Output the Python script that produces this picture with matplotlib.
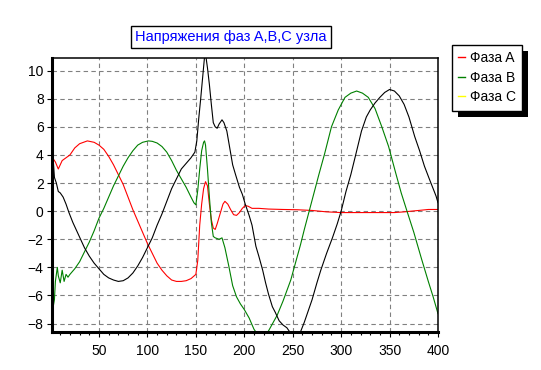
import matplotlib
matplotlib.use("Agg")
import matplotlib.pyplot as plt
from matplotlib.lines import Line2D
from matplotlib.patches import Rectangle
from matplotlib.ticker import MultipleLocator

plt.rcParams['font.family'] = ['Liberation Sans', 'DejaVu Sans']

TITLE = "Напряжения фаз A,B,C узла"
LABELS = ["Фаза A", "Фаза B", "Фаза C"]
LEGEND_COLORS = ["#ff0000", "#008000", "#ffff00"]

# phase A (red)
a_x = [1, 3, 5, 8, 12, 16, 20, 25, 30, 38, 45, 50, 55, 60, 65, 70, 75, 80, 85,
       90, 95, 100, 105, 110, 115, 120, 125, 130, 135, 140, 145, 150, 152, 154,
       156, 158, 160, 162, 164, 166, 168, 170, 172, 175, 178, 180, 183, 186,
       189, 192, 195, 198, 201, 204, 208, 215, 225, 240, 255, 270, 285, 300,
       320, 340, 355, 365, 380, 390, 400]
a_y = [3.4, 3.7, 3.5, 3.0, 3.6, 3.8, 4.0, 4.5, 4.8, 5.0, 4.9, 4.7, 4.4, 3.9,
       3.3, 2.6, 1.9, 1.0, 0.1, -0.7, -1.5, -2.3, -3.0, -3.7, -4.2, -4.6, -4.9,
       -5.0, -5.0, -4.95, -4.8, -4.5, -3.5, -1.0, 0.5, 1.6, 2.1, 1.8, 0.5,
       -0.6, -1.2, -1.3, -0.9, -0.2, 0.5, 0.7, 0.5, 0.1, -0.25, -0.3, -0.1,
       0.2, 0.4, 0.35, 0.2, 0.2, 0.15, 0.12, 0.1, 0.05, -0.05, -0.1, -0.1,
       -0.1, -0.1, -0.05, 0.05, 0.12, 0.12]

# phase B (green)
b_x = [1, 2, 3, 4, 5, 7, 8, 10, 12, 14, 16, 18, 20, 25, 30, 35, 40, 45, 50,
       55, 60, 65, 70, 75, 80, 85, 90, 95, 101, 105, 110, 115, 120, 125, 130,
       135, 140, 145, 148, 150, 152, 154, 156, 158, 159, 160, 162, 164, 166,
       168, 170, 174, 177, 180, 184, 188, 192, 196, 200, 205, 210, 214, 218,
       222, 226, 230, 234, 240, 248, 254, 258, 262, 267, 272, 277, 283, 290,
       297, 304, 310, 316, 322, 328, 335, 342, 349, 356, 362, 368, 375, 383,
       390, 395, 400]
b_y = [-3.8, -6.0, -6.7, -6.3, -5.0, -4.0, -4.6, -5.1, -4.2, -5.0, -4.5, -4.7,
       -4.5, -4.1, -3.6, -2.9, -2.2, -1.4, -0.5, 0.2, 1.0, 1.8, 2.5, 3.2, 3.8,
       4.3, 4.7, 4.9, 5.0, 4.97, 4.85, 4.6, 4.2, 3.6, 2.9, 2.3, 1.7, 1.0, 0.6,
       0.45, 1.5, 3.0, 4.3, 4.9, 5.0, 4.7, 3.0, 1.0, -0.8, -1.8, -1.9, -2.0,
       -1.9, -2.6, -3.9, -5.3, -6.1, -6.6, -7.0, -7.6, -8.4, -8.8, -9.0,
       -8.9, -8.4, -7.9, -7.4, -6.4, -4.9, -3.4, -2.4, -1.3, 0.0, 1.3, 2.6,
       4.1, 6.0, 7.2, 8.1, 8.4, 8.55, 8.4, 8.1, 7.3, 6.0, 4.6, 2.8, 1.3, 0.0,
       -1.5, -3.4, -5.0, -6.1, -7.3]

# phase C (black trace)
c_x = [1, 2, 3, 4, 6, 8, 10, 13, 16, 19, 23, 27, 31, 35, 40, 45, 50, 55, 60,
       65, 70, 75, 80, 85, 90, 95, 100, 105, 110, 115, 120, 125, 130, 135,
       140, 145, 149, 151, 153, 155, 157, 159, 160, 162, 164, 166, 168, 170,
       172, 174, 177, 179, 182, 185, 188, 191, 195, 198, 201, 205, 208, 212,
       215, 219, 222, 225, 229, 232, 236, 240, 244, 247, 252, 255, 258, 262,
       266, 270, 275, 279, 285, 291, 296, 300, 305, 310, 315, 321, 326, 330,
       335, 340, 345, 350, 355, 360, 365, 370, 376, 381, 386, 391, 395, 398,
       400]
c_y = [3.2, 2.2, 3.4, 2.4, 2.0, 1.4, 1.3, 1.0, 0.5, -0.1, -0.8, -1.4, -2.0,
       -2.6, -3.2, -3.7, -4.1, -4.5, -4.75, -4.9, -5.0, -4.95, -4.75, -4.4,
       -3.9, -3.3, -2.6, -1.9, -1.0, -0.2, 0.7, 1.6, 2.3, 3.0, 3.4, 3.8, 4.2,
       5.0, 6.6, 8.0, 9.5, 11.0, 11.2, 10.2, 9.0, 7.6, 6.3, 6.0, 5.9, 6.2,
       6.5, 6.3, 5.7, 4.5, 3.3, 2.6, 1.7, 1.2, 0.5, -0.3, -1.0, -2.5, -3.2,
       -4.2, -5.1, -5.9, -6.8, -7.2, -7.8, -8.1, -8.3, -8.6, -9.0, -8.9, -8.6,
       -7.9, -7.1, -6.3, -5.1, -4.2, -3.0, -1.9, -0.9, 0.0, 1.4, 2.6, 4.0,
       5.7, 6.7, 7.2, 7.7, 8.1, 8.45, 8.66, 8.55, 8.2, 7.6, 6.7, 5.3, 4.3,
       3.2, 2.3, 1.6, 1.07, 0.6]


def main():
    fig = plt.figure(figsize=(5.41, 3.70), dpi=100)
    ax = fig.add_axes([52 / 541, 1 - 332 / 370, 386 / 541, 274 / 370])

    ax.plot(a_x, a_y, color=LEGEND_COLORS[0], lw=0.8)
    ax.plot(b_x, b_y, color=LEGEND_COLORS[1], lw=0.8)
    ax.plot(c_x, c_y, color='black', lw=0.8)

    ax.set_xlim(1.5, 400)
    ax.set_ylim(-8.6, 10.9)
    ax.xaxis.set_major_locator(MultipleLocator(50))
    ax.xaxis.set_minor_locator(MultipleLocator(10))
    ax.yaxis.set_major_locator(MultipleLocator(2))
    ax.tick_params(axis='both', which='major', direction='out', length=3.6,
                   width=0.8, labelsize=10, color='black')
    ax.tick_params(axis='x', which='major', pad=5)
    ax.tick_params(axis='y', which='major', pad=2.4)
    ax.tick_params(axis='x', which='minor', direction='out', length=2.2, width=0.8)
    ax.grid(True, which='major', color='#808080', linestyle=(0, (4, 3)), lw=0.8)

    for side in ['left', 'bottom']:
        ax.spines[side].set_linewidth(2.2)
    for side in ['top', 'right']:
        ax.spines[side].set_linewidth(1.1)

    fig.text(231 / 541, 1 - 37 / 370, TITLE, color='#0000ff', fontsize=10.5,
             ha='center', va='center',
             bbox=dict(boxstyle='square,pad=0.28', fc='white', ec='black', lw=1))

    handles = [Line2D([], [], color=c, lw=1) for c in LEGEND_COLORS]
    leg = fig.legend(handles, LABELS, loc='upper left',
                     bbox_to_anchor=(452 / 541, 1 - 45 / 370),
                     fontsize=10, frameon=True, fancybox=False, framealpha=1,
                     handlelength=0.5, handletextpad=0.35, borderpad=0.45,
                     labelspacing=0.4, borderaxespad=0)
    leg.get_frame().set_edgecolor('black')
    leg.get_frame().set_linewidth(1)
    leg.set_zorder(5)

    fig.canvas.draw()
    bb = leg.get_window_extent()
    shadow = Rectangle((bb.x0 + 6, bb.y0 - 6), bb.width, bb.height,
                       transform=None, fc='black', ec='none', zorder=4)
    fig.add_artist(shadow)

    fig.savefig('out.png', dpi=100)
    plt.close(fig)


if __name__ == '__main__':
    main()
